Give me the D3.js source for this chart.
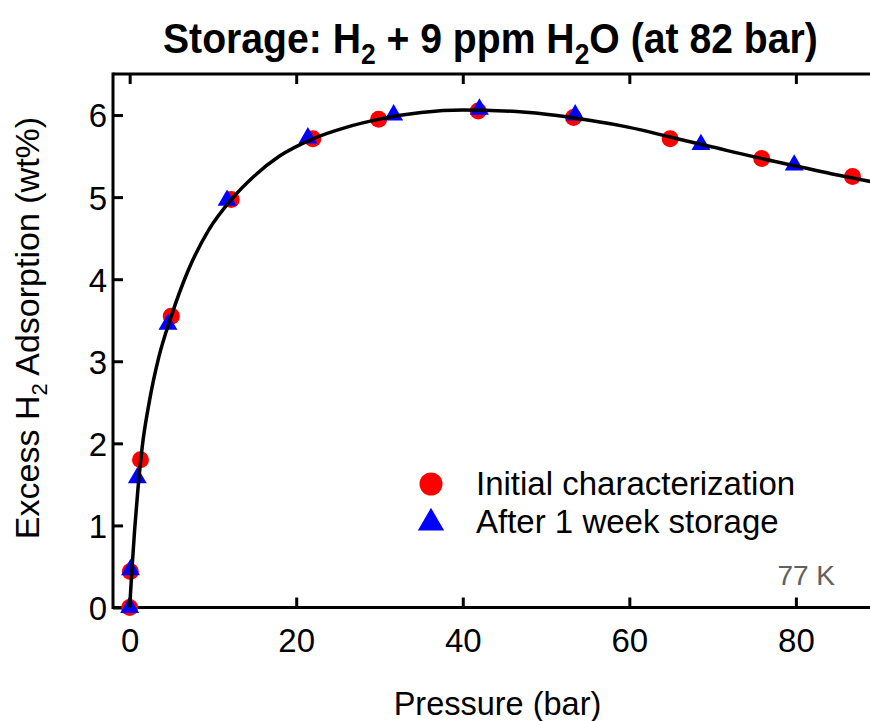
<!DOCTYPE html>
<html>
<head>
<meta charset="utf-8">
<script src="https://cdn.jsdelivr.net/npm/d3@7"></script>
<style>
  html, body { margin: 0; padding: 0; background: #fff; }
  svg { display: block; }
  text { font-family: "Liberation Sans", Arial, sans-serif; }
</style>
</head>
<body>
<script>
// ---- Data ----
const initialP = [0, 0.08, 1.3, 5.0, 12.2, 22.0, 29.9, 41.85, 53.3, 64.9, 75.9, 86.8];
const initialW = [0, 0.44, 1.80, 3.55, 4.97, 5.71, 5.95, 6.05, 5.97, 5.71, 5.47, 5.25];
const storedP = [0, 0.1, 0.92, 4.6, 11.7, 21.4, 31.7, 42.0, 53.5, 68.6, 79.8];
const storedW = [0, 0.46, 1.58, 3.45, 4.96, 5.72, 6.00, 6.07, 6.00, 5.64, 5.39];
const fitP = [0, 0.3, 0.6, 1.0, 1.5, 2.4, 3.5, 5, 7, 9.5, 12.3, 15, 18, 22, 26, 30, 35, 40, 45, 50, 55, 60, 65, 70, 75, 80, 85, 90];
const fitW = [0, 0.5, 0.95, 1.45, 1.95, 2.53, 3.05, 3.55, 4.1, 4.6, 4.98, 5.26, 5.5, 5.71, 5.85, 5.95, 6.03, 6.06, 6.05, 6.01, 5.94, 5.85, 5.73, 5.61, 5.49, 5.38, 5.27, 5.17];
const xTicks = [0, 20, 40, 60, 80];
const yTicks = [0, 1, 2, 3, 4, 5, 6];
const seriesNames = ["Initial characterization", "After 1 week storage"];
const seriesColors = ["#ff0000", "#0000ff"];

const W = 870, H = 721;
const pL = 113, pR = 870, pT = 74, pB = 607.5;

const svg = d3.select("body").append("svg").attr("width", W).attr("height", H);

const x = d3.scaleLinear().domain([-2, 88.9]).range([pL, pR]);
const y = d3.scaleLinear().domain([0, 6.5]).range([pB, pT]);

svg.append("defs").append("clipPath").attr("id", "plotclip")
  .append("rect").attr("x", pL).attr("y", pT - 20).attr("width", pR - pL + 5).attr("height", pB - pT + 40);

// axes (ticks inside)
const axStroke = 3;
function styleAxis(g) {
  g.select(".domain").remove();
  g.selectAll(".tick line").attr("stroke", "#000").attr("stroke-width", axStroke);
  g.selectAll(".tick text").attr("font-size", 33).attr("fill", "#000")
    .attr("font-family", "'Liberation Sans', Arial, sans-serif");
}
const gx = svg.append("g").attr("transform", `translate(0,${pB})`)
  .call(d3.axisBottom(x).tickValues(xTicks).tickFormat(d3.format("d")).tickSizeInner(-10).tickSizeOuter(0).tickPadding(21));
styleAxis(gx);
gx.selectAll(".tick text").attr("dy", "0.71em");

const gxt = svg.append("g").attr("transform", `translate(0,${pT})`)
  .call(d3.axisTop(x).tickValues(xTicks).tickSizeInner(-10).tickSizeOuter(0).tickFormat(""));
styleAxis(gxt);

const gy = svg.append("g").attr("transform", `translate(${pL},0)`)
  .call(d3.axisLeft(y).tickValues(yTicks).tickFormat(d3.format("d")).tickSizeInner(-10).tickSizeOuter(0).tickPadding(6));
styleAxis(gy);
gy.selectAll(".tick text").attr("dy", "0.36em");

// frame lines
svg.append("line").attr("x1", pL).attr("x2", pR).attr("y1", pB).attr("y2", pB)
  .attr("stroke", "#000").attr("stroke-width", axStroke);
svg.append("line").attr("x1", pL).attr("x2", pR).attr("y1", pT).attr("y2", pT)
  .attr("stroke", "#000").attr("stroke-width", axStroke);
svg.append("line").attr("x1", pL).attr("x2", pL).attr("y1", pT - 1.5).attr("y2", pB + 1.5)
  .attr("stroke", "#000").attr("stroke-width", axStroke);

const plot = svg.append("g").attr("clip-path", "url(#plotclip)");

// markers
const initData = initialP.map((p, i) => ({p, w: initialW[i]}));
const storData = storedP.map((p, i) => ({p, w: storedW[i]}));

plot.selectAll("circle.init").data(initData).enter().append("circle")
  .attr("class", "init")
  .attr("cx", d => x(d.p)).attr("cy", d => y(d.w)).attr("r", 8.5)
  .attr("fill", seriesColors[0]);

const triSym = d3.symbol().type(d3.symbolTriangle).size(155);
plot.selectAll("path.stor").data(storData).enter().append("path")
  .attr("class", "stor")
  .attr("d", triSym)
  .attr("transform", d => `translate(${x(d.p)},${y(d.w)})`)
  .attr("fill", seriesColors[1]);

// fit curve
const fitData = fitP.map((p, i) => ({p, w: fitW[i]}));
plot.append("path").datum(fitData)
  .attr("d", d3.line().x(d => x(d.p)).y(d => y(d.w)).curve(d3.curveMonotoneX))
  .attr("fill", "none").attr("stroke", "#000").attr("stroke-width", 3.5);

// legend
const lg = svg.append("g");
lg.append("circle").attr("cx", 431).attr("cy", 484).attr("r", 11.5).attr("fill", seriesColors[0]);
lg.append("path").attr("d", d3.symbol().type(d3.symbolTriangle).size(300))
  .attr("transform", "translate(431,523)").attr("fill", seriesColors[1]);
lg.append("text").attr("x", 476).attr("y", 495).attr("font-size", 33).text(seriesNames[0]);
lg.append("text").attr("x", 476).attr("y", 532.5).attr("font-size", 33).text(seriesNames[1]);

// 77 K annotation
svg.append("text").attr("x", 835).attr("y", 585).attr("text-anchor", "end")
  .attr("font-size", 28).attr("fill", "#606060").text("77 K");

// axis titles
svg.append("text").attr("x", 497.5).attr("y", 715).attr("text-anchor", "middle")
  .attr("font-size", 32.5).text("Pressure (bar)");

const yl = svg.append("text").attr("transform", "translate(39,328) rotate(-90)")
  .attr("text-anchor", "middle").attr("font-size", 34);
yl.append("tspan").text("Excess H");
yl.append("tspan").attr("font-size", 22).attr("dy", 8).text("2");
yl.append("tspan").attr("dy", -8).text(" Adsorption (wt%)");

// title (condensed bold)
const tg = svg.append("g");
const tt = tg.append("text").attr("x", 0).attr("y", 0).attr("font-size", 43).attr("font-weight", "bold")
  .attr("font-family", "'Liberation Sans Narrow', 'Liberation Sans', Arial, sans-serif");
tt.append("tspan").text("Storage: H");
tt.append("tspan").attr("font-size", 29).attr("dy", 11).text("2");
tt.append("tspan").attr("dy", -11).text(" + 9 ppm H");
tt.append("tspan").attr("font-size", 29).attr("dy", 11).text("2");
tt.append("tspan").attr("dy", -11).text("O (at 82 bar)");
const bb = tt.node().getBBox();
const targetW = 655, sx = targetW / bb.width;
tg.attr("transform", `translate(${163 - bb.x * sx},53) scale(${sx},1)`);
</script>
</body>
</html>
